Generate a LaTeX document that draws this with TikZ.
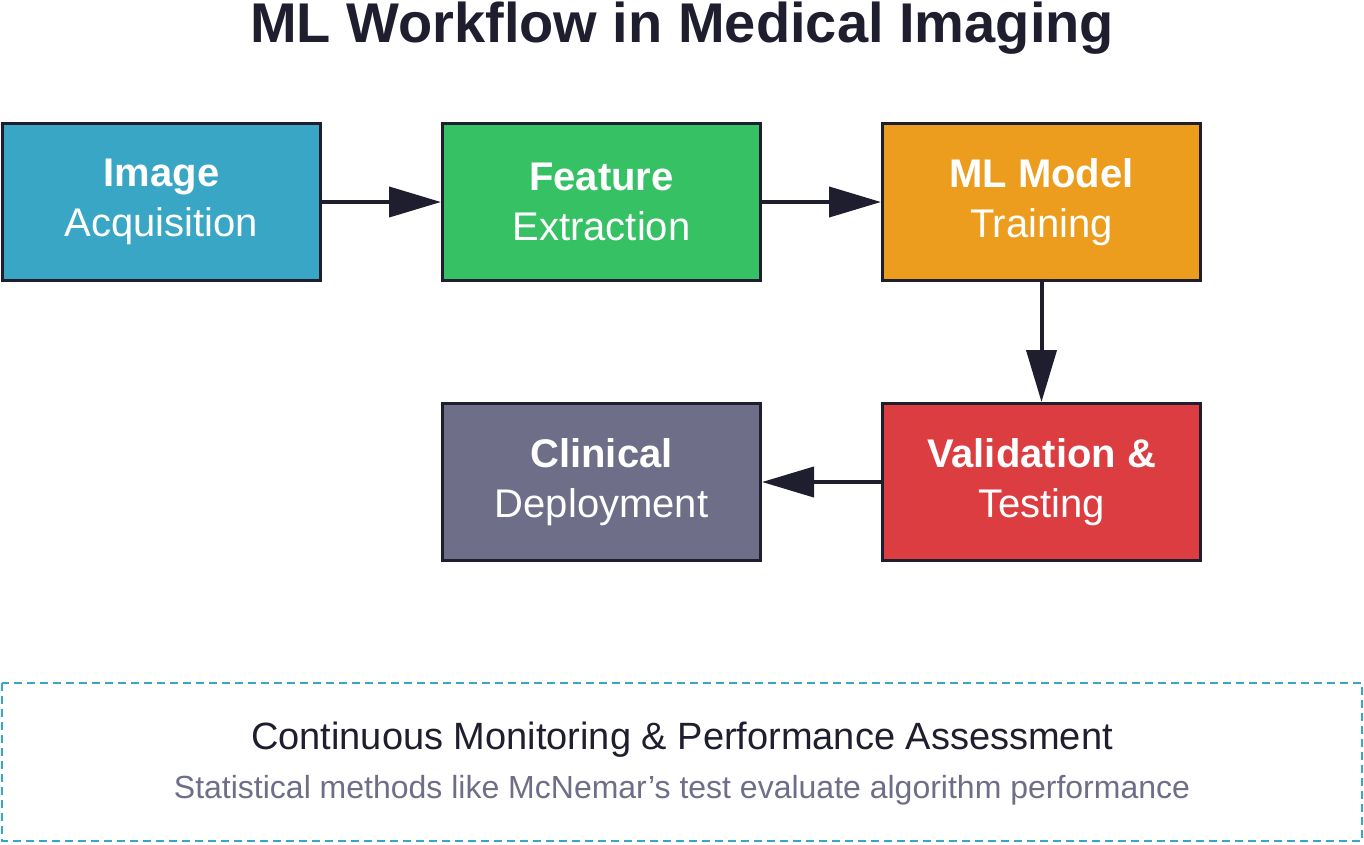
\documentclass[tikz,border=0pt]{standalone}
\usepackage{fontspec}
\setmainfont{Liberation Sans}
\usetikzlibrary{arrows.meta}
\definecolor{dk}{HTML}{1E1E2E}
\definecolor{cb}{HTML}{38A6C4}
\definecolor{cg}{HTML}{36C264}
\definecolor{co}{HTML}{EC9D1E}
\definecolor{cr}{HTML}{DC3D41}
\definecolor{cgr}{HTML}{6E6E89}
\begin{document}
\begin{tikzpicture}[x=1pt,y=-1pt,
 box/.style={draw=dk,line width=3pt,minimum width=318pt,minimum height=157pt,inner sep=0pt,text=white,align=center,font=\fontsize{40}{50}\selectfont},
 arr/.style={draw=dk,line width=4pt,-{Triangle[length=52pt,width=30pt]}}]
\useasboundingbox (0,0) rectangle (1364,844);
\node[font=\bfseries\fontsize{56}{60}\selectfont,text=dk] (t) at (682,28) {ML Workflow in Medical Imaging};
\node[box,fill=cb] (a) at (161.5,202) {\textbf{Image}\\Acquisition};
\node[box,fill=cg] (b) at (601.5,202) {\textbf{Feature}\\Extraction};
\node[box,fill=co] (c) at (1041.5,202) {\textbf{ML Model}\\Training};
\node[box,fill=cr] (d) at (1041.5,482) {\textbf{Validation \&}\\Testing};
\node[box,fill=cgr] (e) at (601.5,482) {\textbf{Clinical}\\Deployment};
\draw[arr] (a) -- (b);
\draw[arr] (b) -- (c);
\draw[arr] (c) -- (d);
\draw[arr] (d) -- (e);
\draw[cb,line width=2.5pt,dash pattern=on 8pt off 5pt] (2,683) rectangle (1362,841);
\node[text=dk,font=\fontsize{38}{44}\selectfont] (m) at (682,740) {Continuous Monitoring \& Performance Assessment};
\node[text=cgr,font=\fontsize{32}{38}\selectfont] (s) at (682,790) {Statistical methods like McNemar's test evaluate algorithm performance};
\end{tikzpicture}
\end{document}
